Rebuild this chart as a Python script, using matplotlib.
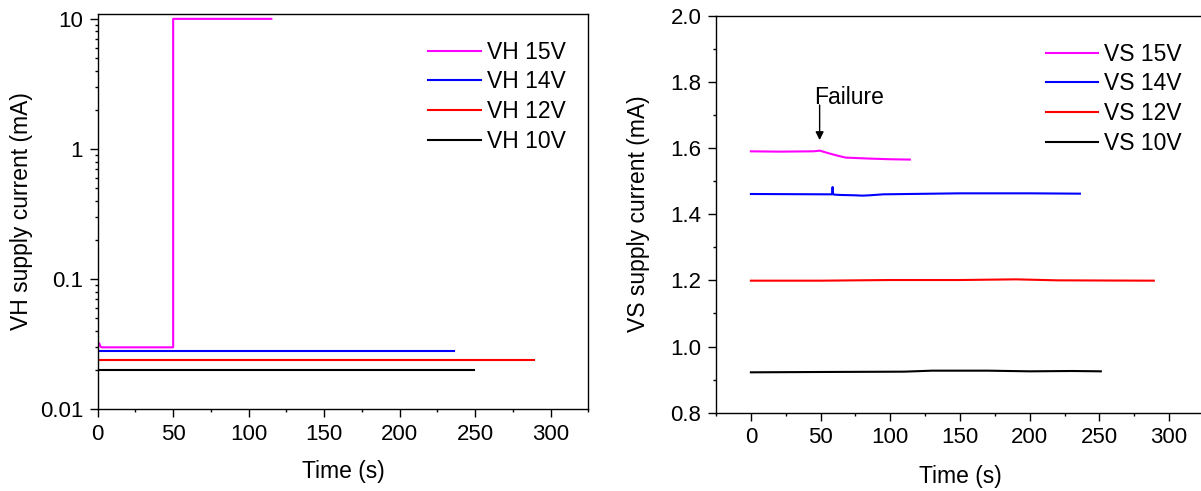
import numpy as np
import matplotlib
matplotlib.use('Agg')
import matplotlib.pyplot as plt
from matplotlib.ticker import MultipleLocator, LogLocator, NullFormatter, FixedLocator, FixedFormatter

plt.rcParams['font.family'] = ['Liberation Sans', 'DejaVu Sans']
plt.rcParams['font.size'] = 16.5

# left panel: VH supply current (log scale)
vh15_t = [0, 1, 2, 3, 50, 50, 115]
vh15_i = [0.0300, 0.0320, 0.0300, 0.0298, 0.0298, 10.0, 10.0]
vh14_t = [0, 236]
vh14_i = [0.0278, 0.0278]
vh12_t = [0, 289]
vh12_i = [0.0238, 0.0238]
vh10_t = [0, 249]
vh10_i = [0.0198, 0.0198]

# right panel: VS supply current
vs15_t = [0, 20, 45, 49.5, 55, 62, 68, 85, 100, 114]
vs15_i = [1.590, 1.589, 1.590, 1.592, 1.585, 1.577, 1.571, 1.568, 1.566, 1.565]
vs14_t = [0, 55, 58.2, 58.6, 59.0, 60, 65, 75, 80, 85, 95, 150, 200, 236]
vs14_i = [1.461, 1.460, 1.460, 1.482, 1.460, 1.459, 1.458, 1.457, 1.456, 1.457, 1.460, 1.463, 1.463, 1.462]
vs12_t = [0, 50, 100, 150, 190, 220, 289]
vs12_i = [1.199, 1.199, 1.201, 1.201, 1.203, 1.200, 1.199]
vs10_t = [0, 50, 110, 130, 170, 200, 230, 251]
vs10_i = [0.922, 0.923, 0.924, 0.927, 0.927, 0.925, 0.926, 0.925]

fig = plt.figure(figsize=(12.01, 4.91), dpi=100)
ax1 = fig.add_axes([0.0813, 0.167, 0.4087, 0.8045])
ax2 = fig.add_axes([0.5962, 0.1595, 0.4063, 0.8086])

lw = 1.5
ax1.plot(vh15_t, vh15_i, color='#ff00ff', lw=lw, label='VH 15V')
ax1.plot(vh14_t, vh14_i, color='#0000ff', lw=lw, label='VH 14V')
ax1.plot(vh12_t, vh12_i, color='#ff0000', lw=lw, label='VH 12V')
ax1.plot(vh10_t, vh10_i, color='black', lw=lw, label='VH 10V')
ax1.set_yscale('log')
ax1.set_xlim(0, 325)
ax1.set_ylim(0.01, 10.9)
ax1.yaxis.set_major_locator(FixedLocator([0.01, 0.1, 1, 10]))
ax1.yaxis.set_major_formatter(FixedFormatter(['0.01', '0.1', '1', '10']))
ax1.yaxis.set_minor_locator(LogLocator(base=10, subs=np.arange(2, 10)))
ax1.yaxis.set_minor_formatter(NullFormatter())
ax1.xaxis.set_major_locator(MultipleLocator(50))
ax1.xaxis.set_minor_locator(MultipleLocator(25))
ax1.set_xlabel('Time (s)')
ax1.set_ylabel('VH supply current (mA)')
ax1.xaxis.set_label_coords(0.5, -0.13)
ax1.yaxis.set_label_coords(-0.132, 0.5)
ax1.legend(loc='upper left', bbox_to_anchor=(0.674, 0.932), frameon=False,
           borderpad=0, borderaxespad=0, handlelength=2.3, handletextpad=0.26,
           labelspacing=0.29)

ax2.plot(vs15_t, vs15_i, color='#ff00ff', lw=lw, label='VS 15V')
ax2.plot(vs14_t, vs14_i, color='#0000ff', lw=lw, label='VS 14V')
ax2.plot(vs12_t, vs12_i, color='#ff0000', lw=lw, label='VS 12V')
ax2.plot(vs10_t, vs10_i, color='black', lw=lw, label='VS 10V')
ax2.set_xlim(-25, 325)
ax2.set_ylim(0.8, 2.0)
ax2.xaxis.set_major_locator(FixedLocator([0, 50, 100, 150, 200, 250, 300]))
ax2.xaxis.set_minor_locator(FixedLocator([-25, 25, 75, 125, 175, 225, 275]))
ax2.yaxis.set_major_locator(MultipleLocator(0.2))
ax2.yaxis.set_minor_locator(MultipleLocator(0.1))
ax2.yaxis.set_major_formatter(plt.FuncFormatter(lambda v, p: f'{v:.1f}'))
ax2.set_xlabel('Time (s)')
ax2.set_ylabel('VS supply current (mA)')
ax2.xaxis.set_label_coords(0.5, -0.132)
ax2.yaxis.set_label_coords(-0.136, 0.5)
ax2.legend(loc='upper left', bbox_to_anchor=(0.6756, 0.932), frameon=False,
           borderpad=0, borderaxespad=0, handlelength=2.3, handletextpad=0.26,
           labelspacing=0.29)
ax2.annotate('', xy=(49.3, 1.624), xytext=(49.3, 1.730),
             arrowprops=dict(arrowstyle='-|>', color='black', lw=1,
                             mutation_scale=12, shrinkA=0, shrinkB=0))
ax2.text(70.4, 1.754, 'Failure', ha='center', va='center', fontsize=16.5)

for ax in (ax1, ax2):
    ax.tick_params(which='major', direction='out', length=5.5, width=1,
                   pad=5, labelsize=16, top=False, right=False)
    ax.tick_params(which='minor', direction='out', length=2.5, width=1,
                   top=False, right=False)
    for s in ax.spines.values():
        s.set_linewidth(1)

fig.savefig('out.png', dpi=100)
